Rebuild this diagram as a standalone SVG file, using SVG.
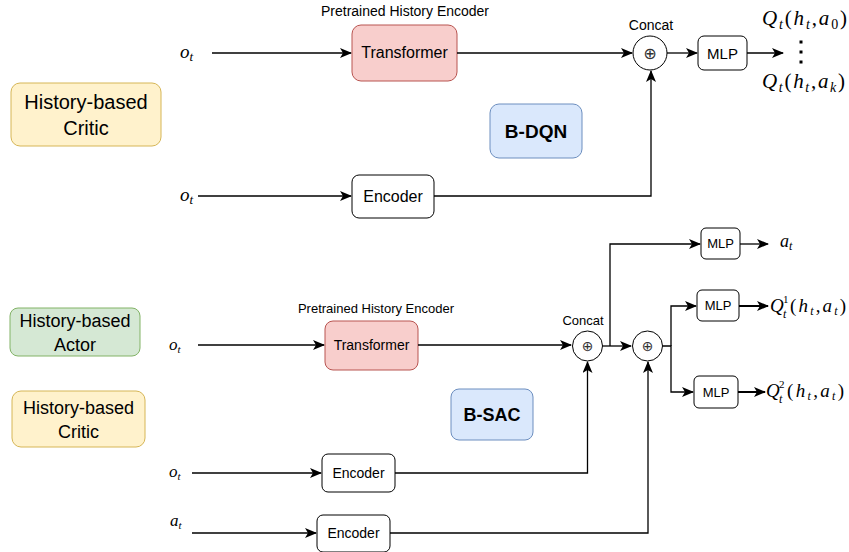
<svg xmlns="http://www.w3.org/2000/svg" width="849" height="552" viewBox="0 0 849 552">
  <style>
    .sans { font-family: "Liberation Sans", Arial, Helvetica, sans-serif; fill: #000; }
    .math { font-family: "Liberation Serif", "Times New Roman", serif; fill: #000; }
    .i { font-style: italic; }
    .box { fill: #fff; stroke: #000; stroke-width: 1; }
    .tf { fill: #f8cecc; stroke: #b85450; stroke-width: 1; }
    .critic { fill: #fff2cc; stroke: #d6b656; stroke-width: 1; }
    .actor { fill: #d5e8d4; stroke: #82b366; stroke-width: 1; }
    .algo { fill: #dae8fc; stroke: #6c8ebf; stroke-width: 1; }
    .wire { fill: none; stroke: #000; stroke-width: 1.3; }
    .arrow { fill: none; stroke: #000; stroke-width: 1.3; marker-end: url(#head); }
    .arrowb { fill: none; stroke: #000; stroke-width: 2; marker-end: url(#head); }
    .op { font-family: "DejaVu Sans", sans-serif; fill: #333; }
  </style>
  <defs>
    <marker id="head" markerUnits="userSpaceOnUse" markerWidth="12" markerHeight="10" viewBox="0 0 12 10" refX="11" refY="5" orient="auto">
      <path d="M0,0 L12,5 L0,10 L3,5 z" fill="#000"/>
    </marker>
  </defs>

  <rect width="849" height="552" fill="#fff"/>

  <!-- ===== B-DQN (history-based critic) ===== -->
  <g id="legend-critic-top">
    <rect x="11" y="83" width="150" height="63" rx="9" class="critic"/>
    <text x="86" y="109" class="sans" font-size="20" text-anchor="middle">History-based</text>
    <text x="86" y="135" class="sans" font-size="20" text-anchor="middle">Critic</text>
  </g>

  <g id="bdqn-label">
    <rect x="490" y="104" width="92" height="54" rx="9" class="algo"/>
    <text x="536" y="138" class="sans" font-size="19" font-weight="bold" text-anchor="middle">B-DQN</text>
  </g>

  <g id="dqn-obs-hist">
    <text x="180" y="58" class="math i" font-size="19">o<tspan font-size="13" dy="3">t</tspan></text>
  </g>
  <g id="dqn-obs">
    <text x="180" y="201" class="math i" font-size="19">o<tspan font-size="13" dy="3">t</tspan></text>
  </g>

  <g id="dqn-transformer">
    <text x="405" y="16" class="sans" font-size="14" text-anchor="middle">Pretrained History Encoder</text>
    <rect x="352" y="25" width="105" height="56" rx="9" class="tf"/>
    <text x="404.5" y="58" class="sans" font-size="16" text-anchor="middle">Transformer</text>
  </g>

  <g id="dqn-encoder">
    <rect x="352" y="175" width="82" height="43" rx="7" class="box"/>
    <text x="393" y="202" class="sans" font-size="16" text-anchor="middle">Encoder</text>
  </g>

  <g id="dqn-concat">
    <text x="651" y="30" class="sans" font-size="14" text-anchor="middle">Concat</text>
    <circle cx="650" cy="53" r="17" class="box"/>
    <text x="650" y="59" class="op" font-size="16" text-anchor="middle">⊕</text>
  </g>

  <g id="dqn-mlp">
    <rect x="698" y="36" width="49" height="34" rx="6" class="box"/>
    <text x="722.5" y="59" class="sans" font-size="15" text-anchor="middle">MLP</text>
  </g>

  <g id="dqn-q-out">
    <text x="762" y="25" class="math" font-size="21" textLength="85" lengthAdjust="spacing"><tspan class="i">Q</tspan><tspan class="i" font-size="14" dy="4">t</tspan><tspan dy="-4">(</tspan><tspan class="i">h</tspan><tspan class="i" font-size="14" dy="4">t</tspan><tspan dy="-4">,</tspan><tspan class="i">a</tspan><tspan font-size="14" dy="4">0</tspan><tspan dy="-4">)</tspan></text>
    <rect x="799.5" y="40.5" width="3" height="3" fill="#000"/>
    <rect x="799.5" y="50.5" width="3" height="3" fill="#000"/>
    <rect x="799.5" y="60.5" width="3" height="3" fill="#000"/>
    <text x="762" y="88" class="math" font-size="21" textLength="83" lengthAdjust="spacing"><tspan class="i">Q</tspan><tspan class="i" font-size="14" dy="4">t</tspan><tspan dy="-4">(</tspan><tspan class="i">h</tspan><tspan class="i" font-size="14" dy="4">t</tspan><tspan dy="-4">,</tspan><tspan class="i">a</tspan><tspan class="i" font-size="14" dy="4">k</tspan><tspan dy="-4">)</tspan></text>
  </g>

  <!-- ===== B-SAC (history-based actor and critic) ===== -->
  <g id="legend-actor">
    <rect x="10" y="308" width="130" height="48" rx="8" class="actor"/>
    <text x="75" y="327" class="sans" font-size="18" text-anchor="middle">History-based</text>
    <text x="75" y="351" class="sans" font-size="18" text-anchor="middle">Actor</text>
  </g>
  <g id="legend-critic-bottom">
    <rect x="12" y="391" width="133" height="56" rx="9" class="critic"/>
    <text x="78.5" y="414" class="sans" font-size="18" text-anchor="middle">History-based</text>
    <text x="78.5" y="438" class="sans" font-size="18" text-anchor="middle">Critic</text>
  </g>

  <g id="bsac-label">
    <rect x="451" y="389" width="82" height="51" rx="8" class="algo"/>
    <text x="492" y="421" class="sans" font-size="18" font-weight="bold" text-anchor="middle">B-SAC</text>
  </g>

  <g id="sac-obs-hist">
    <text x="169" y="350" class="math i" font-size="17">o<tspan font-size="11" dy="3">t</tspan></text>
  </g>
  <g id="sac-obs">
    <text x="169" y="477" class="math i" font-size="17">o<tspan font-size="11" dy="3">t</tspan></text>
  </g>
  <g id="sac-act">
    <text x="170" y="526" class="math i" font-size="17">a<tspan font-size="11" dy="3">t</tspan></text>
  </g>

  <g id="sac-transformer">
    <text x="376" y="313" class="sans" font-size="13" text-anchor="middle">Pretrained History Encoder</text>
    <rect x="325" y="321" width="93" height="49" rx="8" class="tf"/>
    <text x="371.5" y="350" class="sans" font-size="14" text-anchor="middle">Transformer</text>
  </g>

  <g id="sac-obs-encoder">
    <rect x="322" y="454" width="73" height="38" rx="6" class="box"/>
    <text x="358.5" y="478" class="sans" font-size="14" text-anchor="middle">Encoder</text>
  </g>
  <g id="sac-act-encoder">
    <rect x="317" y="515" width="73" height="37" rx="6" class="box"/>
    <text x="353.5" y="538" class="sans" font-size="14" text-anchor="middle">Encoder</text>
  </g>

  <g id="sac-concat">
    <text x="583" y="325" class="sans" font-size="13" text-anchor="middle">Concat</text>
    <circle cx="587.5" cy="346" r="15" class="box"/>
    <text x="587.5" y="351" class="op" font-size="14" text-anchor="middle">⊕</text>
  </g>
  <g id="sac-concat-action">
    <circle cx="647.5" cy="346" r="15" class="box"/>
    <text x="647.5" y="351" class="op" font-size="14" text-anchor="middle">⊕</text>
  </g>

  <g id="sac-policy-mlp">
    <rect x="701" y="228" width="39" height="31" rx="5" class="box"/>
    <text x="720.5" y="248" class="sans" font-size="13" text-anchor="middle">MLP</text>
  </g>
  <g id="sac-q1-mlp">
    <rect x="697" y="290" width="42" height="31" rx="5" class="box"/>
    <text x="718" y="310" class="sans" font-size="13" text-anchor="middle">MLP</text>
  </g>
  <g id="sac-q2-mlp">
    <rect x="694" y="376" width="44" height="32" rx="5" class="box"/>
    <text x="716" y="397" class="sans" font-size="13" text-anchor="middle">MLP</text>
  </g>

  <g id="sac-action-out">
    <text x="780" y="247" class="math i" font-size="18">a<tspan font-size="12" dy="3">t</tspan></text>
  </g>
  <g id="sac-q1-out">
    <text x="770" y="312" class="math i" font-size="19">Q</text>
    <text x="783" y="303" class="math" font-size="11">1</text>
    <text x="783" y="318" class="math i" font-size="12">t</text>
    <text x="790" y="312" class="math" font-size="19" textLength="56" lengthAdjust="spacing">(<tspan class="i">h</tspan><tspan class="i" font-size="12" dy="3">t</tspan><tspan dy="-3">,</tspan><tspan class="i">a</tspan><tspan class="i" font-size="12" dy="3">t</tspan><tspan dy="-3">)</tspan></text>
  </g>
  <g id="sac-q2-out">
    <text x="766" y="397" class="math i" font-size="19">Q</text>
    <text x="779" y="388" class="math" font-size="11">2</text>
    <text x="779" y="403" class="math i" font-size="12">t</text>
    <text x="787" y="397" class="math" font-size="19" textLength="57" lengthAdjust="spacing">(<tspan class="i">h</tspan><tspan class="i" font-size="12" dy="3">t</tspan><tspan dy="-3">,</tspan><tspan class="i">a</tspan><tspan class="i" font-size="12" dy="3">t</tspan><tspan dy="-3">)</tspan></text>
  </g>

  <!-- ===== connectors ===== -->
  <g id="connectors">
    <!-- B-DQN -->
    <path d="M212,53 H351" class="arrow"/>
    <path d="M198,196 H351" class="arrow"/>
    <path d="M457,53 H632" class="arrow"/>
    <path d="M434,196 H651 V71" class="arrow"/>
    <path d="M667,53 H697" class="arrow"/>
    <path d="M747,53 H783" class="arrow"/>

    <!-- B-SAC -->
    <path d="M198,345 H324" class="arrow"/>
    <path d="M192,473 H321" class="arrow"/>
    <path d="M192,533 H316" class="arrow"/>
    <path d="M418,345 H571" class="arrow"/>
    <path d="M395,473 H587.5 V362" class="arrow"/>
    <path d="M390,533 H648 V362" class="arrow"/>
    <path d="M602.5,346 H631" class="arrow"/>
    <path d="M610,346 V244 H700" class="arrow"/>
    <path d="M740,244 H768" class="arrow"/>
    <path d="M662.5,346 H671 V392 H693" class="arrow"/>
    <path d="M671,346 V306 H696" class="arrow"/>
    <path d="M739,306 H768" class="arrowb"/>
    <path d="M738,392 H765" class="arrowb"/>
  </g>
</svg>
